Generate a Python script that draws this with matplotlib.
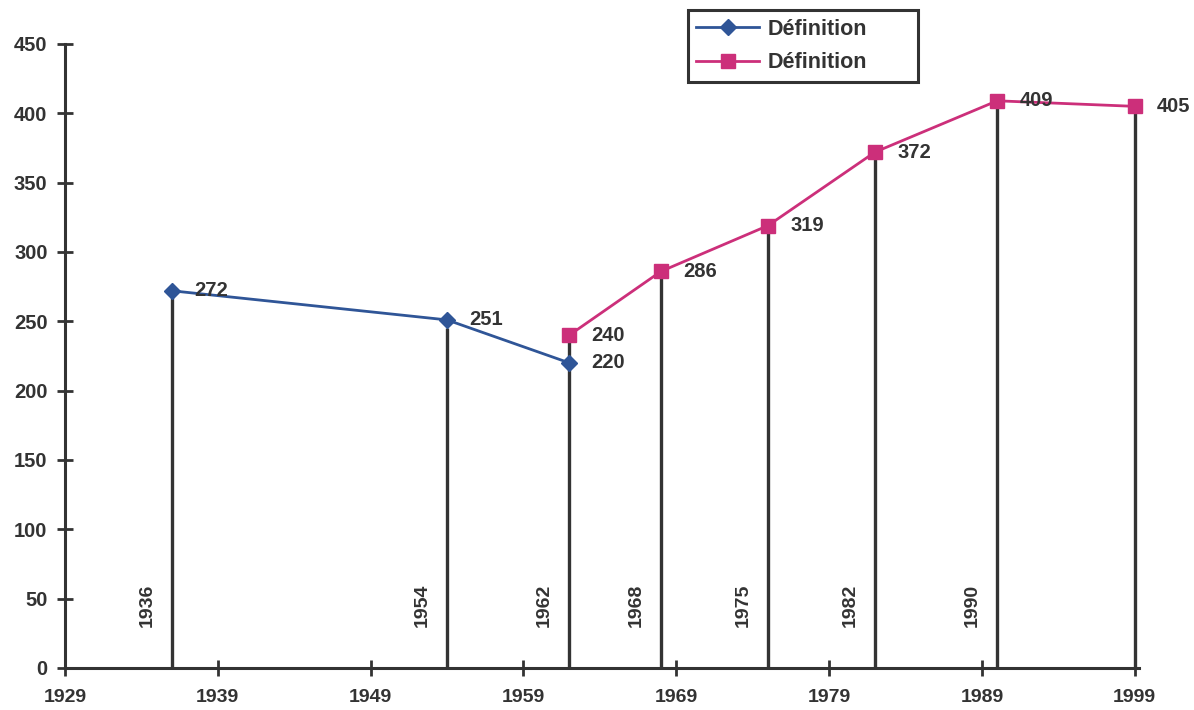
import matplotlib.pyplot as plt

plt.rcParams['font.family'] = ['Liberation Sans', 'DejaVu Sans']
plt.rcParams['font.weight'] = 'bold'

# census years and values
years_old = [1936, 1954, 1962]
values_old = [272, 251, 220]
years_new = [1962, 1968, 1975, 1982, 1990, 1999]
values_new = [240, 286, 319, 372, 409, 405]
census_years = [1936, 1954, 1962, 1968, 1975, 1982, 1990, 1999]
census_tops = [272, 245, 240, 286, 319, 372, 409, 405]
labelled_years = [1936, 1954, 1962, 1968, 1975, 1982, 1990]
x_ticks = [1929, 1939, 1949, 1959, 1969, 1979, 1989, 1999]
y_ticks = [0, 50, 100, 150, 200, 250, 300, 350, 400, 450]

ink = '#333333'
blue = '#2f5597'
pink = '#cc2f7a'
fs = 14.5

fig = plt.figure(figsize=(11.94, 7.10), dpi=100)
ax = fig.add_axes([0.0544, 0.0592, 0.896, 0.8789])

# vertical drop lines for each census
ax.vlines(census_years, 0, census_tops, color=ink, linewidth=2.4, zorder=1,
          clip_on=False)

ax.plot(years_old, values_old, color=blue, linewidth=2, marker='D',
        markersize=8, label='Définition', zorder=3, clip_on=False)
ax.plot(years_new, values_new, color=pink, linewidth=2, marker='s',
        markersize=10, label='Définition', zorder=3, clip_on=False)

for x, v in zip(years_old + years_new, values_old + values_new):
    ax.annotate(str(v), (x, v), xytext=(16, 0), textcoords='offset points',
                ha='left', va='center', fontsize=fs, color=ink, zorder=4)

for yr in labelled_years:
    ax.annotate(str(yr), (yr, 45), xytext=(-18, 0), textcoords='offset points',
                rotation=90, ha='center', va='center', fontsize=14, color=ink)

ax.set_xlim(1929, 1999)
ax.set_ylim(0, 450)
ax.set_xticks(x_ticks)
ax.set_yticks(y_ticks)
ax.tick_params(direction='inout', length=11, width=2, color=ink,
               labelcolor=ink, labelsize=14)
ax.tick_params(axis='x', pad=10)
ax.tick_params(axis='y', pad=7, labelsize=fs)
for lab in ax.get_xticklabels() + ax.get_yticklabels():
    lab.set_fontweight('bold')

for side in ['top', 'right']:
    ax.spines[side].set_visible(False)
for side in ['left', 'bottom']:
    ax.spines[side].set_color(ink)
    ax.spines[side].set_linewidth(2.2)
ax.spines['bottom'].set_bounds(1929, 1999.3)

# legend box stretched to a fixed width
leg = ax.legend(loc='upper left', bbox_to_anchor=(0.576, 0.887, 0.193, 0.099),
                bbox_transform=fig.transFigure, mode='expand', fancybox=False,
                edgecolor=ink, framealpha=1, fontsize=15.5, handlelength=2.9,
                borderpad=0.4, labelspacing=0.6, handletextpad=0.4,
                borderaxespad=0)
leg.get_frame().set_linewidth(2.2)
for t in leg.get_texts():
    t.set_color(ink)

fig.savefig('out.png', dpi=100, facecolor='white')
